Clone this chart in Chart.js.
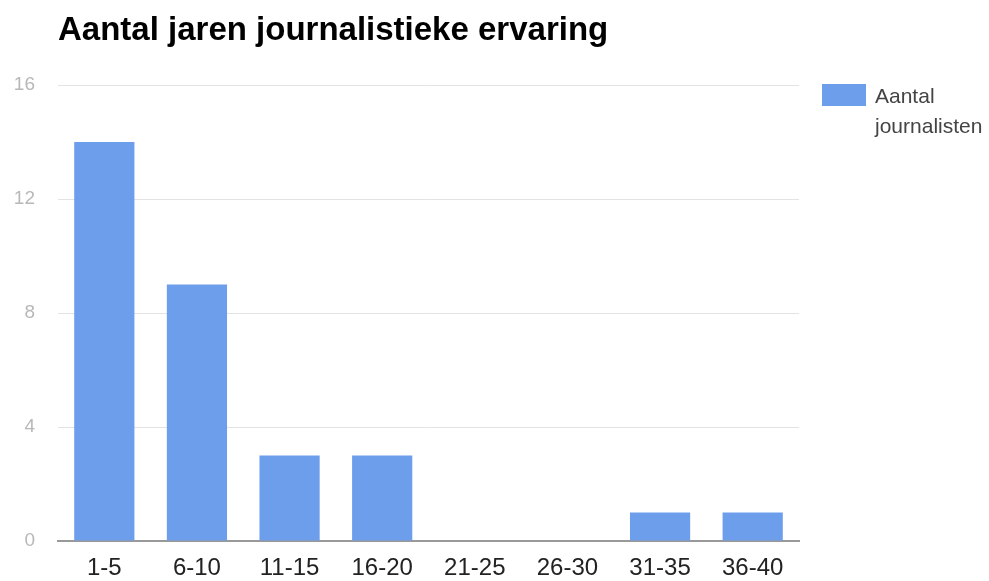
<!DOCTYPE html>
<html>
<head>
<meta charset="utf-8">
<script src="https://cdn.jsdelivr.net/npm/chart.js@4"></script>
<style>
  body { margin: 0; background: #fff; }
</style>
</head>
<body>
<canvas id="chart" width="989" height="581"></canvas>
<script>
const titleText = "Aantal jaren journalistieke ervaring";
const categories = ["1-5", "6-10", "11-15", "16-20", "21-25", "26-30", "31-35", "36-40"];
const journalisten = [14, 9, 3, 3, 0, 0, 1, 1];
const seriesName = ["Aantal", "journalisten"];
const yTicks = [0, 4, 8, 12, 16];

// titel en legenda zelf tekenen, zoals in het origineel
const extras = {
  id: "extras",
  afterDraw(chart) {
    const ctx = chart.ctx;
    const area = chart.chartArea;
    ctx.save();
    ctx.fillStyle = "#000";
    ctx.font = "bold 33px 'Liberation Sans', Arial, sans-serif";
    ctx.textBaseline = "alphabetic";
    ctx.textAlign = "left";
    ctx.fillText(titleText, area.left, 40);

    ctx.fillStyle = "#6d9eeb";
    ctx.fillRect(822, 84, 44, 22);
    ctx.fillStyle = "#444";
    ctx.font = "21px 'Liberation Sans', Arial, sans-serif";
    ctx.fillText(seriesName[0], 875, 103);
    ctx.fillText(seriesName[1], 875, 133);
    ctx.restore();
  }
};

new Chart(document.getElementById("chart").getContext("2d"), {
  type: "bar",
  data: {
    labels: categories,
    datasets: [{
      label: seriesName.join(" "),
      data: journalisten,
      backgroundColor: "#6d9eeb",
      barPercentage: 0.65,
      categoryPercentage: 1.0,
    }],
  },
  options: {
    responsive: false,
    animation: false,
    layout: { padding: { top: 85, right: 190, bottom: 0, left: 0 } },
    plugins: {
      legend: { display: false },
      title: { display: false },
      tooltip: { enabled: false },
    },
    scales: {
      x: {
        grid: { display: false, drawTicks: false },
        border: { color: "#999", width: 2 },
        ticks: {
          color: "#222",
          font: { family: "'Liberation Sans', Arial, sans-serif", size: 24 },
          padding: 13,
          maxRotation: 0,
        },
        afterFit(scale) { scale.height = 40; },
      },
      y: {
        min: 0,
        max: 16,
        afterBuildTicks(scale) { scale.ticks = yTicks.map(v => ({ value: v })); },
        grid: { color: "#e3e3e3", drawTicks: false },
        border: { display: false },
        ticks: {
          color: "#b8b8b8",
          font: { family: "'Liberation Sans', Arial, sans-serif", size: 19 },
          padding: 23,
        },
        afterFit(scale) { scale.width = 58; },
      },
    },
  },
  plugins: [extras],
});
</script>
</body>
</html>
